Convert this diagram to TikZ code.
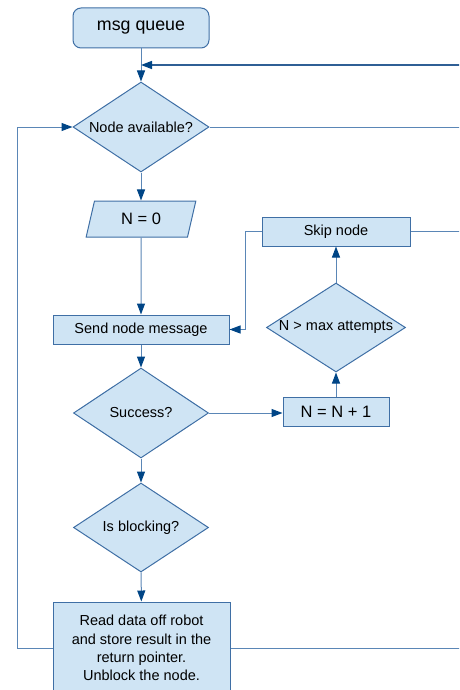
\documentclass[tikz,border=0pt]{standalone}
\usepackage{fontspec}
\setmainfont{Liberation Sans}
\usetikzlibrary{shapes.geometric,arrows.meta}
\definecolor{boxfill}{HTML}{CFE4F4}
\definecolor{boxline}{HTML}{3F6FA5}
\definecolor{wire}{HTML}{5A86B6}
\definecolor{railblue}{HTML}{2F5F95}
\definecolor{tipblue}{HTML}{004586}

\begin{document}
\begin{tikzpicture}[x=1pt, y=-1pt,
  box/.style={draw=boxline, fill=boxfill, line width=1pt, inner sep=0pt,
    font={\fontsize{14.5}{18.3}\selectfont}},
  decide/.style={box, diamond, aspect=1.5},
  big/.style={font={\fontsize{16.5}{19}\selectfont}},
  flow/.style={draw=wire, line width=1pt, -{Triangle[length=11pt,width=8pt,color=tipblue]}},
  wire/.style={draw=wire, line width=1pt}]
\clip (0,0) rectangle (459,690);
\node[box, rounded corners=8pt, minimum width=136pt, minimum height=40pt, font={\fontsize{17.8}{20}\selectfont}] (queue) at (141,28) {msg queue};
\node[decide, minimum width=136pt, minimum height=90pt] (avail) at (141,127) {Node available?};
\node[box, big, trapezium, trapezium left angle=73, trapezium right angle=107, trapezium stretches, minimum width=110pt, minimum height=36pt] (nzero) at (141,219) {N = 0};
\node[box, minimum width=176pt, minimum height=29pt] (sendmsg) at (141,329.5) {Send node message};
\node[box, minimum width=148pt, minimum height=29pt] (skip) at (336,231.5) {Skip node};
\node[decide, minimum width=139pt, minimum height=89pt] (maxatt) at (336,327.5) {N > max attempts};
\node[decide, minimum width=135pt, minimum height=90pt] (success) at (141,413) {Success?};
\node[box, big, minimum width=106pt, minimum height=29pt] (incr) at (336,412) {N = N + 1};
\node[decide, minimum width=135pt, minimum height=89pt] (blocking) at (141,527.5) {Is blocking?};
\node[box, align=center, minimum width=177pt, minimum height=92pt] (readdata) at (141.5,648) {Read data off robot\\and store result in the\\return pointer.\\Unblock the node.};
\coordinate (rim) at (470,0);
\coordinate (lrail) at (17,0);
\coordinate (sback) at (245,0);
\coordinate (merge) at (141,65);
\draw[flow] (queue) -- (avail);
\draw[flow, draw=railblue, line width=1.6pt] (merge -| rim) -- (merge);
\draw[wire] (avail.east) -- (avail.east -| rim);
\draw[flow] (avail) -- (nzero);
\draw[flow] (nzero) -- (sendmsg);
\draw[flow] (sendmsg) -- (success);
\draw[flow] (success.east) -- (success.east -| incr.west);
\draw[flow] (incr) -- (maxatt);
\draw[flow] (maxatt) -- (skip);
\draw[flow] (skip.west) -- (skip.west -| sback) |- (sendmsg.east);
\draw[wire] (skip.east) -- (skip.east -| rim);
\draw[flow] (success) -- (blocking);
\draw[flow] (blocking) -- (readdata);
\draw[flow] (readdata.west) -- (readdata.west -| lrail) |- (avail.west);
\draw[wire] (readdata.east) -- (readdata.east -| rim);
\end{tikzpicture}
\end{document}
